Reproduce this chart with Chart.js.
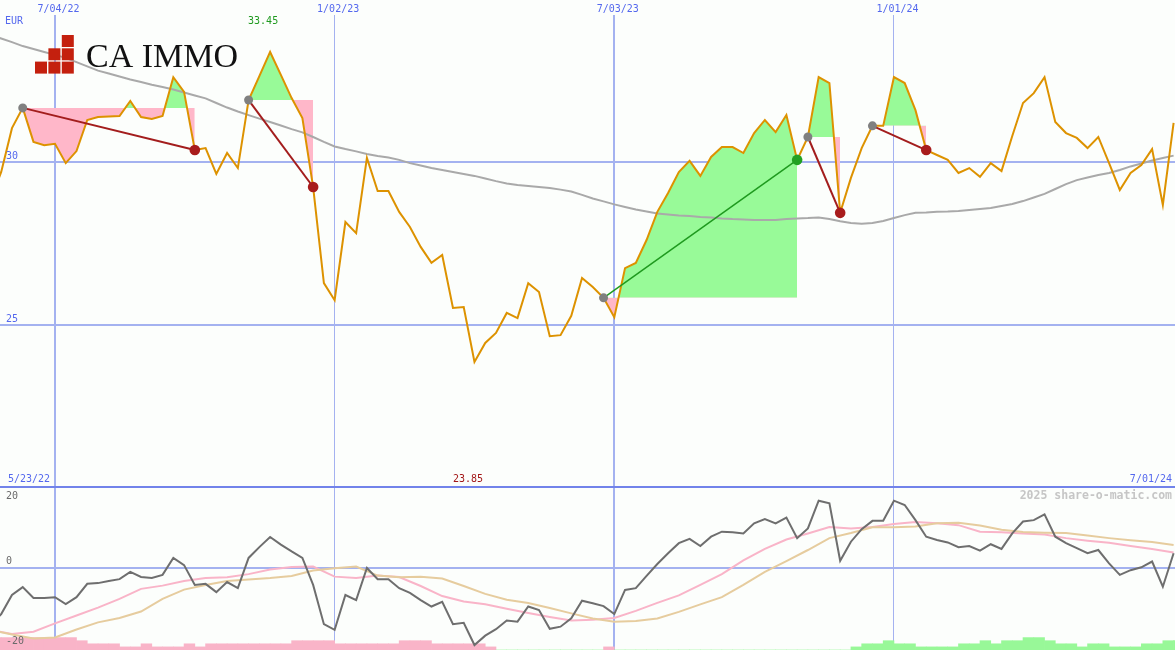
<!DOCTYPE html>
<html>
<head>
<meta charset="utf-8">
<script src="https://cdn.jsdelivr.net/npm/chart.js@4"></script>
<style>
html, body { margin: 0; padding: 0; background: #fcfefc; }
#wrap { position: relative; width: 1175px; height: 650px; overflow: hidden; background: #fcfefc; }
canvas { position: absolute; left: 0; }
#top { top: 0; }
#bottom { top: 486px; }
</style>
</head>
<body>
<div id="wrap">
  <canvas id="top" width="1175" height="486"></canvas>
  <canvas id="bottom" width="1175" height="164"></canvas>
</div>
<script>
// weekly data, week 0 = 7/04/22
const weeks = Array.from({ length: 111 }, (_, k) => k - 6);

const closePrice = [
  28.82, 29.68, 31.02, 31.64, 30.60, 30.50,
  30.54, 29.95, 30.32, 31.27, 31.36, 31.38, 31.39, 31.85, 31.36, 31.30,
  31.39, 32.58, 32.13, 30.35, 30.41, 29.62, 30.26, 29.80, 31.88, 32.61,
  33.35, 32.65, 31.94, 31.33, 29.22, 26.28, 25.76, 28.15, 27.81, 30.11,
  29.10, 29.10, 28.46, 28.00, 27.39, 26.90, 27.14, 25.52, 25.55, 23.87,
  24.45, 24.76, 25.37, 25.21, 26.28, 26.01, 24.66, 24.69, 25.28, 26.44,
  26.16, 25.83, 25.24, 26.74, 26.90, 27.60, 28.46, 29.04, 29.68, 30.02,
  29.56, 30.14, 30.44, 30.44, 30.26, 30.87, 31.27, 30.90, 31.42, 30.05,
  30.75, 32.58, 32.40, 28.43, 29.50, 30.41, 31.09, 31.09, 32.58, 32.40,
  31.57, 30.35, 30.20, 30.05, 29.65, 29.80, 29.53, 29.95, 29.71, 30.78,
  31.79, 32.09, 32.58, 31.21, 30.87, 30.72, 30.41, 30.75, 29.95, 29.13,
  29.65, 29.89, 30.38, 28.67, 31.18
];

const avgPrice = [
  33.87, 33.76, 33.65, 33.53, 33.44, 33.35,
  33.26, 33.17, 33.04, 32.91, 32.78, 32.69, 32.60, 32.51, 32.43, 32.35,
  32.28, 32.20, 32.11, 32.02, 31.93, 31.79, 31.65, 31.53, 31.42, 31.31,
  31.21, 31.10, 30.99, 30.89, 30.75, 30.60, 30.46, 30.38, 30.31, 30.23,
  30.17, 30.12, 30.05, 29.95, 29.88, 29.80, 29.74, 29.68, 29.62, 29.56,
  29.48, 29.40, 29.33, 29.28, 29.25, 29.22, 29.19, 29.14, 29.08, 28.98,
  28.87, 28.78, 28.69, 28.61, 28.53, 28.47, 28.41, 28.38, 28.35, 28.33,
  28.30, 28.29, 28.26, 28.24, 28.23, 28.21, 28.21, 28.21, 28.24, 28.26,
  28.27, 28.29, 28.24, 28.17, 28.12, 28.10, 28.12, 28.18, 28.27, 28.36,
  28.43, 28.44, 28.46, 28.47, 28.49, 28.52, 28.55, 28.58, 28.64, 28.70,
  28.79, 28.90, 29.01, 29.16, 29.31, 29.43, 29.51, 29.59, 29.65, 29.74,
  29.85, 29.94, 30.03, 30.11, 30.18
];

const momentum = [
  -15.8, -12.8, -7.5, -5.3, -8.3, -8.3,
  -8.1, -10.0, -8.1, -4.4, -4.2, -3.6, -3.1, -1.1, -2.5, -2.8,
  -1.9, 2.8, 0.8, -4.7, -4.4, -6.7, -3.9, -5.6, 2.8, 5.8,
  8.6, 6.5, 4.6, 2.8, -4.7, -15.6, -17.2, -7.5, -8.9, 0.0,
  -3.1, -3.1, -5.6, -6.9, -8.9, -10.7, -9.4, -15.6, -15.2, -21.4,
  -18.8, -17.0, -14.6, -14.9, -10.7, -11.7, -16.9, -16.3, -14.0, -9.1,
  -9.8, -10.6, -12.8, -6.1, -5.6, -2.2, 1.1, 4.1, 6.9, 8.1,
  6.1, 8.7, 10.1, 9.9, 9.6, 12.4, 13.6, 12.4, 14.0, 8.3,
  11.0, 18.7, 18.0, 2.0, 7.3, 10.8, 13.1, 13.1, 18.7, 17.5,
  13.3, 8.7, 7.8, 7.1, 5.8, 6.1, 4.8, 6.6, 5.3, 9.6,
  12.9, 13.3, 14.9, 8.7, 6.9, 5.5, 4.1, 5.0, 1.3, -1.9,
  -0.6, 0.2, 1.8, -5.2, 4.1
];

// the two smoothed lines are read every second week
const slowWeeks = weeks.filter(w => w % 2 === 0);
const fastSignal = [
  -17.2, -18.3, -17.7, -15.4, -13.2, -11.0, -8.6, -5.8, -4.9, -3.6,
  -2.8, -2.6, -1.7, -0.4, 0.3, 0.4, -2.4, -2.8, -2.1, -2.5,
  -5.0, -7.8, -9.3, -10.1, -11.3, -12.5, -13.6, -14.6, -14.4, -13.9,
  -11.9, -9.7, -7.6, -4.7, -1.7, 2.1, 5.3, 7.9, 9.6, 11.4,
  11.0, 11.4, 12.2, 12.8, 12.4, 11.9, 10.1, 9.9, 9.6, 9.3,
  8.3, 7.6, 7.0, 6.1, 5.3, 4.3
];
const slowSignal = [
  -17.2, -18.5, -19.6, -19.3, -17.1, -15.1, -13.9, -12.1, -8.6, -6.0,
  -4.7, -3.6, -3.2, -2.8, -2.2, -0.7, -0.1, 0.4, -2.1, -2.6,
  -2.4, -2.9, -5.0, -7.2, -8.8, -9.7, -11.1, -12.6, -14.0, -14.9,
  -14.7, -14.0, -12.2, -10.1, -8.1, -4.7, -1.1, 1.9, 5.0, 8.3,
  9.7, 11.3, 11.3, 11.5, 12.4, 12.6, 11.8, 10.6, 10.0, 9.8,
  9.7, 9.0, 8.3, 7.7, 7.2, 6.4
];

// bottom histogram, negative = pink, positive = green
const trendLevel = [
  -4, -4, -4, -4, -4, -4,
  -4, -4, -3, -2, -2, -2, -1, -1, -2, -1,
  -1, -1, -2, -1, -2, -2, -2, -2, -2, -2,
  -2, -2, -3, -3, -3, -3, -2, -2, -2, -2,
  -2, -2, -3, -3, -3, -2, -2, -2, -2, -2,
  -1, 0, 0, 0, 0, 0, 0, 0, 0, 0,
  0, -1, 0, 0, 0, 0, 0, 0, 0, 0,
  0, 0, 0, 0, 0, 0, 0, 0, 0, 0,
  0, 0, 0, 0, 1, 2, 2, 3, 2, 2,
  1, 1, 1, 1, 2, 2, 3, 2, 3, 3,
  4, 4, 3, 2, 2, 1, 2, 2, 1, 1,
  1, 2, 2, 3, 3
];

const signalStarts = [-3, 18, 51, 70, 76];
const signalEnds = [13, 24, 69, 73, 81];

const dateTicks = [0, 26, 52, 78];
const dateLabels = ['7/04/22', '1/02/23', '7/03/23', '1/01/24'];
const priceTicks = [30, 25];
const oscTicks = [20, 0, -20];
const firstDate = '5/23/22';
const lastDate = '7/01/24';
const highLabel = '33.45';
const lowLabel = '23.85';

const BLUE_TXT = '#5468ee';
const GRID = '#a4b2f0';
const MONO = '"DejaVu Sans Mono", monospace';

const idx = w => w + 6;
const pt = w => ({ x: w, y: closePrice[idx(w)] });

function drawVerticals(ctx, x, top, bottom) {
  ctx.fillStyle = GRID;
  dateTicks.forEach((w, k) => {
    const px = Math.round(x.getPixelForValue(w));
    if (k % 2 === 0) ctx.fillRect(px - 1, top, 2, bottom - top);
    else ctx.fillRect(px - 1, top, 1, bottom - top);
  });
}

const topDecor = {
  id: 'topDecor',
  beforeDatasetsDraw(chart) {
    const { ctx, scales: { x, y }, width, height } = chart;
    ctx.save();
    ctx.fillStyle = GRID;
    priceTicks.forEach(v => {
      const py = Math.round(y.getPixelForValue(v));
      ctx.fillRect(0, py - 1, width, 2);
    });
    drawVerticals(ctx, x, 15, height);
    ctx.restore();
  },
  afterDatasetsDraw(chart) {
    const { ctx, scales: { x, y }, width } = chart;
    ctx.save();
    // logo
    ctx.fillStyle = '#c4200e';
    [[2, 0], [1, 1], [2, 1], [0, 2], [1, 2], [2, 2]].forEach(([c, r]) => {
      ctx.fillRect(35 + c * 13.4, 35 + r * 13.3, 12, 12);
    });
    ctx.fillStyle = '#111';
    ctx.font = '34px "Liberation Serif", serif';
    ctx.textBaseline = 'alphabetic';
    ctx.textAlign = 'left';
    ctx.fillText('CA IMMO', 86, 67);

    ctx.font = '10px ' + MONO;
    ctx.textBaseline = 'middle';
    ctx.fillStyle = BLUE_TXT;
    ctx.textAlign = 'center';
    dateTicks.forEach((w, k) => {
      ctx.fillText(dateLabels[k], x.getPixelForValue(w) + 3.5, 9);
    });
    ctx.textAlign = 'left';
    ctx.fillText('EUR', 5, 21.5);
    priceTicks.forEach(v => {
      ctx.fillText(String(v), 6, y.getPixelForValue(v) - 5.5);
    });
    ctx.fillText(firstDate, 8, 479);
    ctx.textAlign = 'right';
    ctx.fillText(lastDate, width - 3, 479);

    // high / low
    const hi = closePrice.indexOf(Math.max(...closePrice));
    const lo = closePrice.indexOf(Math.min(...closePrice));
    ctx.textAlign = 'center';
    ctx.fillStyle = '#1f9a1f';
    ctx.fillText(highLabel, x.getPixelForValue(weeks[hi]) - 7, 21.5);
    ctx.fillStyle = '#a31818';
    ctx.fillText(lowLabel, x.getPixelForValue(weeks[lo]) - 6.5, 479);
    ctx.restore();
  }
};

const bottomDecor = {
  id: 'bottomDecor',
  beforeDatasetsDraw(chart) {
    const { ctx, scales: { x, y }, width, height } = chart;
    ctx.save();
    ctx.fillStyle = GRID;
    const py = Math.round(y.getPixelForValue(0));
    ctx.fillRect(0, py - 1, width, 2);
    drawVerticals(ctx, x, 2, height);
    ctx.fillStyle = '#7283ea';
    ctx.fillRect(0, 0, width, 2);
    ctx.restore();
  },
  afterDatasetsDraw(chart) {
    const { ctx, scales: { y }, width } = chart;
    ctx.save();
    ctx.font = '10px ' + MONO;
    ctx.textBaseline = 'middle';
    ctx.textAlign = 'left';
    ctx.fillStyle = '#6a6a6a';
    oscTicks.forEach(v => {
      const py = y.getPixelForValue(v);
      ctx.fillText(String(v), 6, v === 0 ? py - 6.5 : py + (v < 0 ? 1.5 : 0));
    });
    ctx.font = 'bold 11.5px ' + MONO;
    ctx.fillStyle = '#c6c6c6';
    ctx.textAlign = 'right';
    ctx.fillText('2025 share-o-matic.com', width - 3, 10);
    ctx.restore();
  }
};

const xScale = { type: 'linear', min: -5.113, max: 104.13, display: false, offset: false };

// signal fills, links and markers
const fillSets = signalStarts.map((s, k) => ({
  data: weeks.filter(w => w >= s && w <= signalEnds[k]).map(pt),
  borderWidth: 0,
  pointRadius: 0,
  fill: { target: { value: closePrice[idx(s)] }, above: '#98fa98', below: '#ffb7c9' },
  order: 10
}));
const linkSets = signalStarts.map((s, k) => {
  const e = signalEnds[k];
  const up = closePrice[idx(e)] > closePrice[idx(s)];
  return {
    data: [pt(s), pt(e)],
    borderColor: up ? '#1f9a1f' : '#a31d1d',
    borderWidth: up ? 1.5 : 2,
    pointRadius: 0,
    fill: false,
    order: 4
  };
});
const endColors = signalEnds.map((e, k) =>
  closePrice[idx(e)] > closePrice[idx(signalStarts[k])] ? '#22a022' : '#a81c1c');

new Chart(document.getElementById('top'), {
  type: 'line',
  data: {
    datasets: [
      ...fillSets,
      {
        data: weeks.map((w, k) => ({ x: w, y: avgPrice[k] })),
        borderColor: '#a9a9a9', borderWidth: 2, pointRadius: 0, fill: false, order: 8
      },
      {
        data: weeks.map(pt),
        borderColor: '#dd9200', borderWidth: 2, pointRadius: 0, fill: false, order: 6
      },
      ...linkSets,
      {
        data: signalStarts.map(pt), showLine: false,
        pointRadius: 4.5, pointBackgroundColor: '#808080', pointBorderWidth: 0, order: 2
      },
      {
        data: signalEnds.map(pt), showLine: false,
        pointRadius: 5.3, pointBackgroundColor: endColors, pointBorderWidth: 0, order: 1
      }
    ]
  },
  options: {
    responsive: false,
    animation: false,
    events: [],
    layout: { padding: 0, autoPadding: false },
    elements: { line: { tension: 0 } },
    scales: {
      x: xScale,
      y: { type: 'linear', min: 20.077, max: 34.939, display: false }
    },
    plugins: { legend: { display: false }, tooltip: { enabled: false } }
  },
  plugins: [topDecor]
});

new Chart(document.getElementById('bottom'), {
  type: 'line',
  data: {
    datasets: [
      {
        type: 'bar',
        data: weeks.map((w, k) => ({ x: w + 0.5, y: Math.abs(trendLevel[k]) })),
        backgroundColor: trendLevel.map(v => v < 0 ? '#f9b4c8' : '#98f898'),
        borderWidth: 0, barPercentage: 1, categoryPercentage: 1,
        yAxisID: 'yb', order: 10
      },
      {
        data: slowWeeks.map((w, k) => ({ x: w, y: fastSignal[k] })),
        borderColor: '#f9b4c8', borderWidth: 2, pointRadius: 0, fill: false, order: 8
      },
      {
        data: slowWeeks.map((w, k) => ({ x: w, y: slowSignal[k] })),
        borderColor: '#e6cc9e', borderWidth: 2, pointRadius: 0, fill: false, order: 7
      },
      {
        data: weeks.map((w, k) => ({ x: w, y: momentum[k] })),
        borderColor: '#6e6e6e', borderWidth: 2, pointRadius: 0, fill: false, order: 5
      }
    ]
  },
  options: {
    responsive: false,
    animation: false,
    events: [],
    layout: { padding: 0, autoPadding: false },
    elements: { line: { tension: 0 } },
    scales: {
      x: xScale,
      y: { type: 'linear', min: -22.78, max: 22.78, display: false },
      yb: { type: 'linear', min: 0, max: 52.9, display: false }
    },
    plugins: { legend: { display: false }, tooltip: { enabled: false } }
  },
  plugins: [bottomDecor]
});
</script>
</body>
</html>
